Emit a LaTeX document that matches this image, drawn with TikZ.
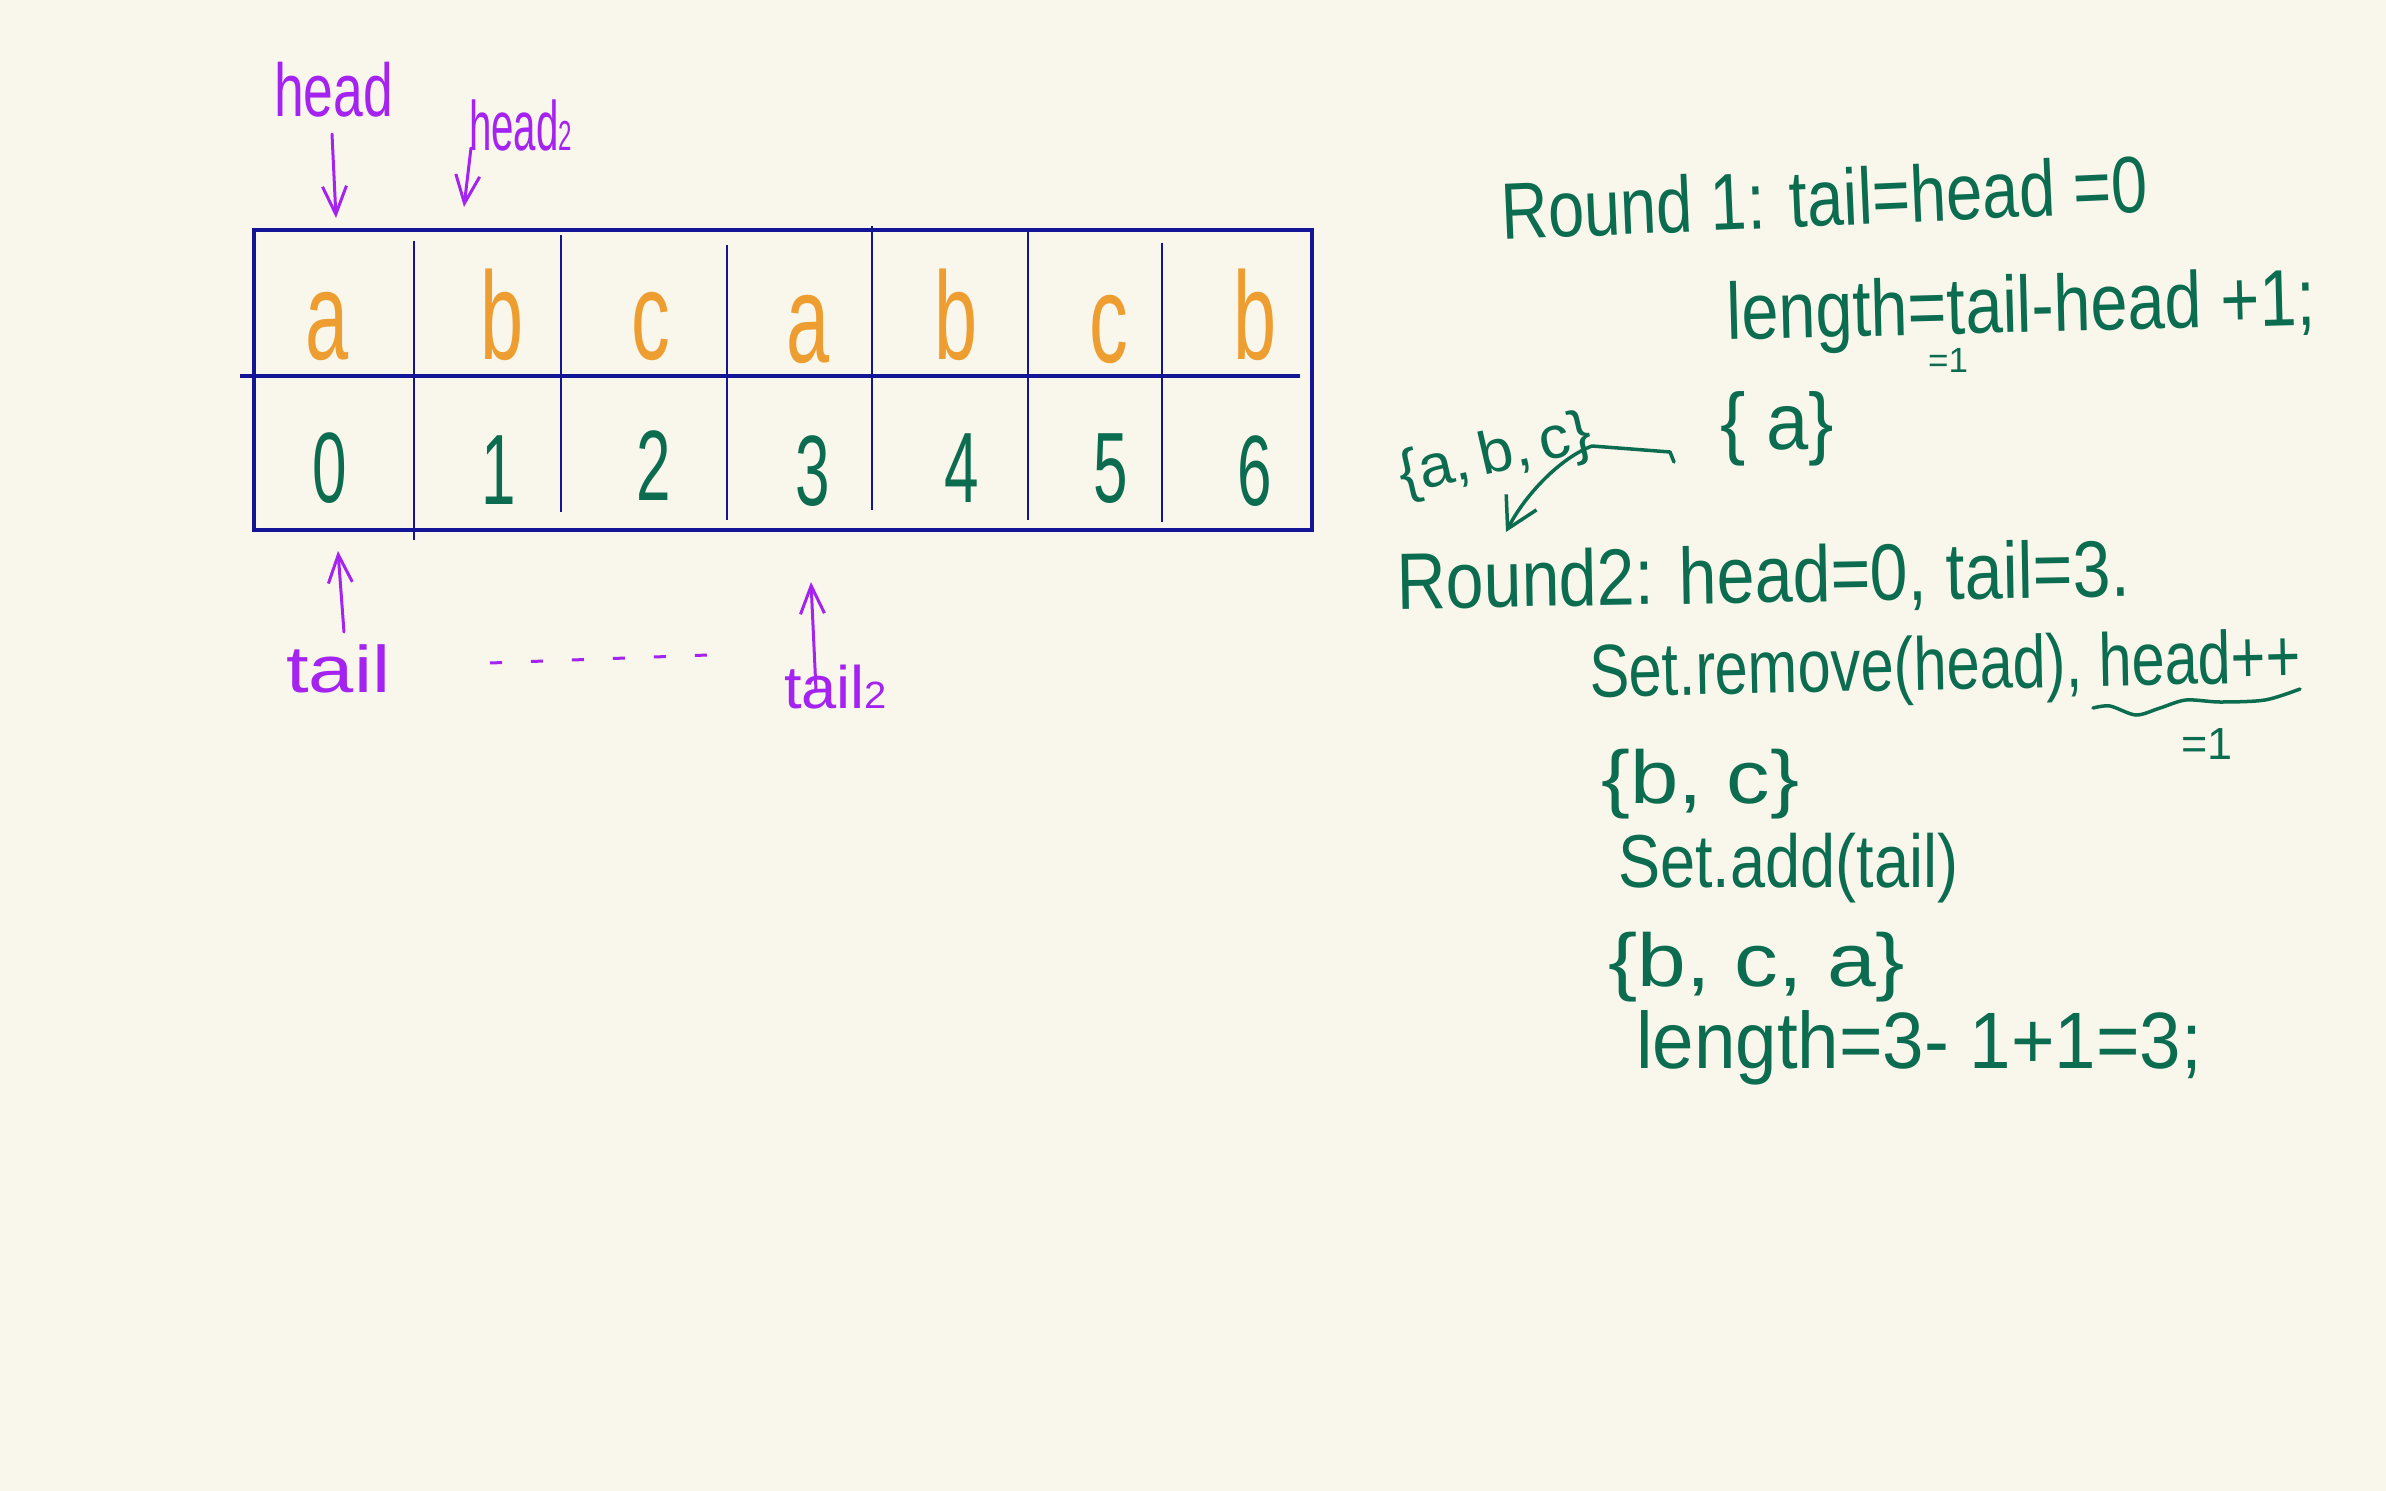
\documentclass[tikz,border=0pt]{standalone}
\usepackage{fontspec}
\setmainfont{Liberation Sans}
\usetikzlibrary{arrows.meta}
\definecolor{bg}{RGB}{249,247,236}
\definecolor{navy}{RGB}{20,20,150}
\definecolor{orng}{RGB}{238,158,48}
\definecolor{grn}{RGB}{12,108,80}
\definecolor{purp}{RGB}{165,35,240}
\newcommand\hw[2]{\resizebox{#1}{\height}{#2}}
\newcommand\nar[1]{\scalebox{0.62}[1]{#1}}
\begin{document}
\begin{tikzpicture}[x=1pt,y=-1pt,
  gridline/.style={navy,line width=2.5pt},
  frame/.style={navy,line width=3.5pt},
  letter/.style={orng,anchor=base,inner sep=0pt,font=\fontsize{125}{135}\selectfont},
  digit/.style={grn,anchor=base,inner sep=0pt,font=\fontsize{100}{110}\selectfont},
  ptxt/.style={purp,anchor=base west,inner sep=0pt},
  gtxt/.style={grn,anchor=base west,inner sep=0pt},
  small/.style={grn,anchor=center,inner sep=0pt},
  parrow/.style={purp,line width=3pt,line cap=round,-{Straight Barb[length=28pt,width=24pt,line width=3pt]}},
  garrow/.style={grn,line width=3.5pt,line cap=round,line join=round,-{Straight Barb[length=30pt,width=34pt,line width=3.5pt]}},
]
\fill[bg] (0,0) rectangle (2386,1491);
\useasboundingbox (0,0) rectangle (2386,1491);

% table
\draw[frame] (254,230) rectangle (1312,530);
\draw[frame] (240,376) -- (1300,376);
\draw[gridline] (414,241) -- (414,540);
\draw[gridline] (561,235) -- (561,512);
\draw[gridline] (727,245) -- (727,520);
\draw[gridline] (872,226) -- (872,510);
\draw[gridline] (1028,232) -- (1028,520);
\draw[gridline] (1162,243) -- (1162,522);

% letters
\node[letter] (l0) at (327,359) {\nar{a}};
\node[letter] (l1) at (502,359) {\nar{b}};
\node[letter] (l2) at (651,359) {\nar{c}};
\node[letter] (l3) at (808,362) {\nar{a}};
\node[letter] (l4) at (956,359) {\nar{b}};
\node[letter] (l5) at (1109,362) {\nar{c}};
\node[letter] (l6) at (1255,359) {\nar{b}};

% digits
\node[digit] (d0) at (330,502) {\nar{0}};
\node[digit] (d1) at (499,504) {\nar{1}};
\node[digit] (d2) at (654,500) {\nar{2}};
\node[digit] (d3) at (813,505) {\nar{3}};
\node[digit] (d4) at (962,502) {\nar{4}};
\node[digit] (d5) at (1111,502) {\nar{5}};
\node[digit] (d6) at (1255,505) {\nar{6}};

% purple labels
\node[ptxt,font=\fontsize{75}{80}\selectfont] (headlbl) at (274,116) {\hw{119pt}{head}};
\node[ptxt,font=\fontsize{70}{75}\selectfont] (headtwo) at (469,150) {\hw{103pt}{head{\fontsize{42}{45}\selectfont 2}}};
\node[ptxt,font=\fontsize{66}{70}\selectfont] (taillbl) at (286,692) {\hw{104pt}{tail}};
\node[ptxt,font=\fontsize{60}{64}\selectfont] (tailtwo) at (784,708) {\hw{103pt}{tail{\fontsize{38}{40}\selectfont 2}}};

\coordinate (hA) at (332,134);
\coordinate (hB) at (336,218);
\draw[parrow] (hA) -- (hB);
\coordinate (hC) at (471,148);
\coordinate (hD) at (464,207);
\draw[parrow] (hC) -- (hD);
\coordinate (tA) at (344,632);
\coordinate (tB) at (338,551);
\draw[parrow] (tA) -- (tB);
\coordinate (tC) at (816,690);
\coordinate (tD) at (811,582);
\draw[parrow] (tC) -- (tD);

\coordinate (dA) at (490,663);
\coordinate (dB) at (708,655);
\draw[purp,line width=3pt,dash pattern=on 12pt off 29pt] (dA) -- (dB);

% right side notes
\node[gtxt,rotate=2.5,font=\fontsize{80}{90}\selectfont] (r1) at (1502,240) {\hw{647pt}{Round 1: tail=head =0}};
\node[gtxt,rotate=1.5,font=\fontsize{80}{90}\selectfont] (r1len) at (1727,340) {\hw{589pt}{length=tail-head +1;}};
\node[small,font=\fontsize{35}{40}\selectfont] (eqa) at (1948,360) {=1};
\node[gtxt,font=\fontsize{80}{90}\selectfont] (aset) at (1720,449) {\hw{114pt}{\{ a\}}};
\node[gtxt,rotate=13,font=\fontsize{60}{70}\selectfont] (abc) at (1403,494) {\hw{196pt}{\{a,\,b,\,c\}}};

\coordinate (cS) at (1674,462);
\coordinate (cM) at (1670,452);
\coordinate (cK) at (1592,446);
\coordinate (cE) at (1506,532);
\draw[garrow] (cS) -- (cM) -- (cK) .. controls (1560,458) and (1525,495) .. (cE);

\node[gtxt,rotate=1,font=\fontsize{80}{90}\selectfont] (r2) at (1397,609) {\hw{733pt}{Round2: head=0, tail=3.}};
\node[gtxt,rotate=1.2,font=\fontsize{75}{85}\selectfont] (rm) at (1590,697) {\hw{711pt}{Set.remove(head), head++}};
\draw[grn,line width=3.5pt,line cap=round] plot[smooth] coordinates {(2093,708) (2110,706) (2136,715) (2160,708) (2186,700) (2220,702) (2265,700) (2300,689)};
\node[small,font=\fontsize{45}{50}\selectfont] (eqb) at (2207,744) {=1};
\node[gtxt,font=\fontsize{75}{85}\selectfont] (bc) at (1601,803) {\hw{198pt}{\{b, c\}}};
\node[gtxt,font=\fontsize{75}{85}\selectfont] (add) at (1618,887) {\hw{340pt}{Set.add(tail)}};
\node[gtxt,font=\fontsize{75}{85}\selectfont] (bca) at (1608,986) {\hw{297pt}{\{b, c, a\}}};
\node[gtxt,font=\fontsize{80}{90}\selectfont] (len2) at (1636,1068) {\hw{566pt}{length=3- 1+1=3;}};
\end{tikzpicture}
\end{document}
